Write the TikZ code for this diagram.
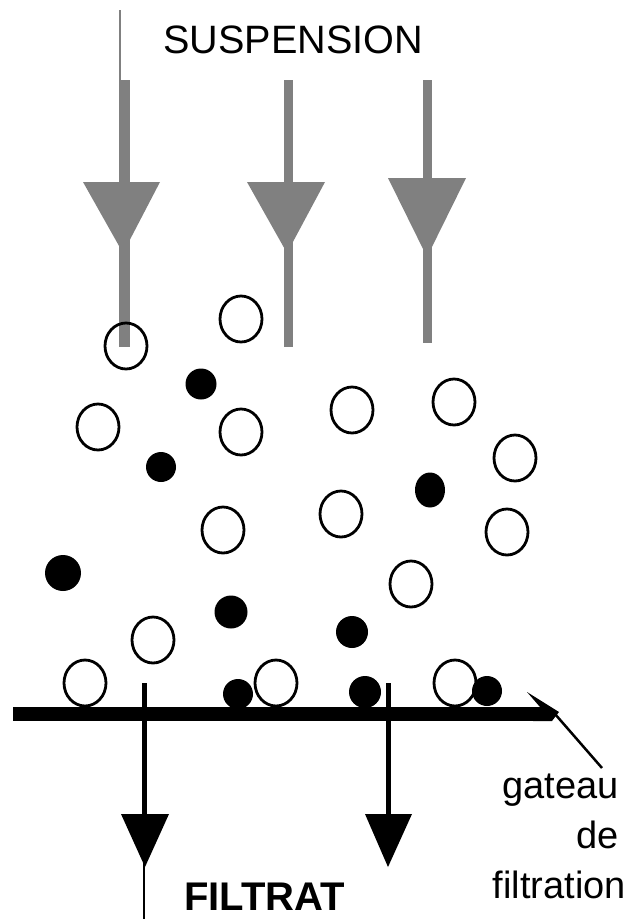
\documentclass[tikz,border=0pt]{standalone}
\usepackage{fontspec}
\setmainfont{Liberation Sans}
\definecolor{flowgray}{RGB}{128,128,128}
\begin{document}
\begin{tikzpicture}[x=1pt,y=-1pt,
  feedbar/.style={flowgray,line width=#1},
  feedhead/.style={fill=flowgray},
  outbar/.style={black,line width=5},
  outhead/.style={fill=black},
  solid particle/.style={fill=black},
  hollow particle/.style={draw=black,line width=2.8},
  label/.style={inner sep=0pt,font=\fontsize{38}{46}\selectfont}]
\useasboundingbox (0,0) rectangle (630,919);

% feed of suspension: three grey arrows
\coordinate (f0) at (120,10);
\coordinate (f1top) at (124,80);   \coordinate (f1bot) at (124,347);
\coordinate (f2top) at (288.5,80); \coordinate (f2bot) at (288.5,347);
\coordinate (f3top) at (427.5,80); \coordinate (f3bot) at (427.5,343);
\draw[feedbar=2] (f0) -- (120,80);
\draw[feedbar=11] (f1top) -- (f1bot);
\draw[feedbar=9.5] (f2top) -- (f2bot);
\draw[feedbar=9.5] (f3top) -- (f3bot);
\fill[feedhead] (83,182) -- (160,182) -- (123,253) -- cycle;
\fill[feedhead] (247,182) -- (325,182) -- (287,253) -- cycle;
\fill[feedhead] (388,178) -- (466,178) -- (427,257) -- cycle;

\node[label,anchor=base west,font=\fontsize{39.6}{46}\selectfont] (susp) at (163,53) {SUSPENSION};

% particles in suspension
\foreach \px/\py in {126/346,241/319,98/427,241/432,352/410,454/402,515/458,
                     223/530,341/514,507/532,411/584,153/640,85/683,276/683,455/683}
  \draw[hollow particle] (\px,\py) ellipse (21 and 23);
\foreach \px/\py/\r in {201/384/15.5,161/467/15,63/573/18,231/612/16.5,
                        352/632/16,238/694/15,365/692/16,487/691/15}
  \fill[solid particle] (\px,\py) circle (\r);
\fill[solid particle] (430,490) ellipse (15 and 17.5);

% filter medium with cake
\coordinate (mleft) at (13,714);
\coordinate (mright) at (545,714);
\coordinate (mtip) at (559,712);
\draw[black,line width=14] (mleft) -- (mright);
\fill[black] (527,692) -- (mtip) -- (552,721) -- (533,721) -- (540,707) -- cycle;

% filtrate outlets
\coordinate (o1top) at (144,683); \coordinate (o1bot) at (144,818);
\coordinate (o2top) at (388,683); \coordinate (o2bot) at (388,818);
\draw[outbar] (o1top) -- (o1bot);
\draw[outbar] (o2top) -- (o2bot);
\draw[black,line width=2] (144,860) -- (144,919);
\fill[outhead] (121,814) -- (169,814) -- (145,867) -- cycle;
\fill[outhead] (365,814) -- (412,814) -- (388,867) -- cycle;

\node[label,anchor=base west,font=\fontsize{40}{46}\selectfont\bfseries] (filtrat) at (184,910) {FILTRAT};

% cake label with leader
\node[label,anchor=base east] (cakeA) at (619,798) {gateau};
\node[label,anchor=base east] (cakeB) at (619,848) {de};
\node[label,anchor=base east] (cakeC) at (626,898) {filtration};
\coordinate (lead) at (602,768);
\draw[black,line width=2.5] (555,714) -- (lead);
\end{tikzpicture}
\end{document}
